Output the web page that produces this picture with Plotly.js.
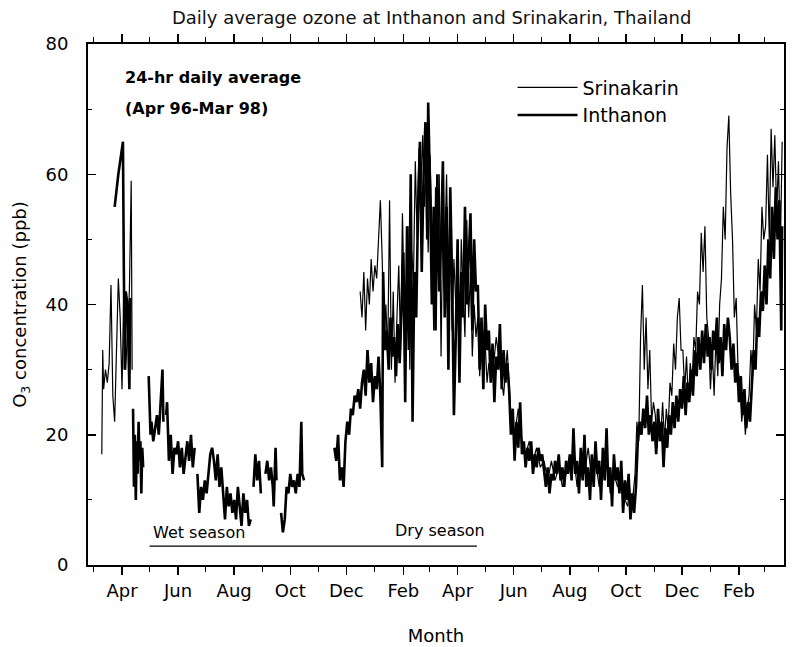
<!DOCTYPE html>
<html>
<head>
<meta charset="utf-8">
<script src="https://cdn.plot.ly/plotly-3.0.1.min.js"></script>
<style>
  html, body { margin: 0; padding: 0; background: #ffffff; }
  #chart { width: 792px; height: 647px; }
</style>
</head>
<body>
<div id="chart"></div>
<script>
// ---------------- DATA ----------------
const monthTickLabels = ['Apr','Jun','Aug','Oct','Dec','Feb','Apr','Jun','Aug','Oct','Dec','Feb'];

// Inthanon (thick line): daily-average O3 in ppb, null = no data
const intDates = [
'1996-03-24','1996-03-26','1996-03-28','1996-03-30','1996-04-01','1996-04-02','1996-04-03','1996-04-04','1996-04-05','1996-04-07','1996-04-09','1996-04-10','1996-04-12',
'1996-04-13','1996-04-14','1996-04-15','1996-04-16','1996-04-17','1996-04-18','1996-04-19','1996-04-20','1996-04-21','1996-04-22','1996-04-23','1996-04-24','1996-04-26',
'1996-04-30','1996-05-01','1996-05-02','1996-05-03','1996-05-05','1996-05-07','1996-05-09','1996-05-11','1996-05-13','1996-05-15','1996-05-16','1996-05-17',
'1996-05-19','1996-05-20','1996-05-22','1996-05-24','1996-05-26','1996-05-28','1996-05-30','1996-06-01','1996-06-03','1996-06-05','1996-06-07','1996-06-09','1996-06-11','1996-06-13','1996-06-15','1996-06-17','1996-06-19','1996-06-20',
'1996-06-22','1996-06-24','1996-06-26','1996-06-28','1996-06-30','1996-07-02','1996-07-04','1996-07-06','1996-07-08','1996-07-10','1996-07-12','1996-07-14','1996-07-16','1996-07-18',
'1996-07-20','1996-07-22','1996-07-24','1996-07-26','1996-07-28','1996-07-30','1996-08-01','1996-08-03','1996-08-05','1996-08-07','1996-08-09','1996-08-11','1996-08-13','1996-08-15','1996-08-17','1996-08-19','1996-08-20',
'1996-08-22','1996-08-24','1996-08-26','1996-08-28','1996-08-30','1996-09-01',
'1996-09-04','1996-09-06','1996-09-08','1996-09-10','1996-09-12','1996-09-13','1996-09-15','1996-09-16','1996-09-18',
'1996-09-21','1996-09-23','1996-09-25','1996-09-27','1996-09-29','1996-10-01','1996-10-03','1996-10-05','1996-10-07','1996-10-09','1996-10-11','1996-10-13','1996-10-14','1996-10-16','1996-10-17',
'1996-11-18','1996-11-20','1996-11-22','1996-11-24','1996-11-26','1996-11-28','1996-11-30','1996-12-02','1996-12-04','1996-12-06','1996-12-08','1996-12-10','1996-12-12','1996-12-14','1996-12-16','1996-12-18','1996-12-20','1996-12-22','1996-12-24','1996-12-26','1996-12-28','1996-12-30',
'1997-01-01','1997-01-03','1997-01-05','1997-01-07','1997-01-09','1997-01-10','1997-01-12','1997-01-14','1997-01-16','1997-01-18','1997-01-20','1997-01-22','1997-01-24','1997-01-26','1997-01-28','1997-01-30',
'1997-02-01','1997-02-03','1997-02-05','1997-02-07','1997-02-09','1997-02-11','1997-02-13','1997-02-15','1997-02-17','1997-02-19','1997-02-21','1997-02-23','1997-02-25','1997-02-27','1997-02-28',
'1997-03-02','1997-03-04','1997-03-06','1997-03-08','1997-03-10','1997-03-12','1997-03-14','1997-03-16','1997-03-18','1997-03-20','1997-03-22','1997-03-24','1997-03-26','1997-03-28','1997-03-30',
'1997-04-01','1997-04-03','1997-04-05','1997-04-07','1997-04-09','1997-04-11','1997-04-13','1997-04-15','1997-04-17','1997-04-19','1997-04-21','1997-04-23','1997-04-25','1997-04-27','1997-04-29',
'1997-05-01','1997-05-03','1997-05-05','1997-05-07','1997-05-09','1997-05-11','1997-05-13','1997-05-15','1997-05-17','1997-05-19','1997-05-21','1997-05-23','1997-05-25','1997-05-27','1997-05-29','1997-05-31',
'1997-06-02','1997-06-04','1997-06-06','1997-06-08','1997-06-10','1997-06-12','1997-06-14','1997-06-16','1997-06-18','1997-06-20','1997-06-22','1997-06-24','1997-06-26','1997-06-28','1997-06-30',
'1997-07-02','1997-07-04','1997-07-06','1997-07-08','1997-07-10','1997-07-12','1997-07-14','1997-07-16','1997-07-18','1997-07-20','1997-07-22','1997-07-24','1997-07-26','1997-07-28','1997-07-30',
'1997-08-01','1997-08-03','1997-08-05','1997-08-07','1997-08-09','1997-08-11','1997-08-13','1997-08-15','1997-08-17','1997-08-19','1997-08-21','1997-08-23','1997-08-25','1997-08-27','1997-08-29','1997-08-31',
'1997-09-02','1997-09-04','1997-09-06','1997-09-08','1997-09-10','1997-09-12','1997-09-14','1997-09-16','1997-09-18','1997-09-20','1997-09-22','1997-09-24','1997-09-26','1997-09-28','1997-09-30',
'1997-10-02','1997-10-04','1997-10-06','1997-10-08','1997-10-10','1997-10-12','1997-10-14','1997-10-16','1997-10-18','1997-10-20','1997-10-22','1997-10-24','1997-10-26','1997-10-28','1997-10-30',
'1997-11-01','1997-11-03','1997-11-05','1997-11-07','1997-11-09','1997-11-11','1997-11-13','1997-11-15','1997-11-17','1997-11-19','1997-11-21','1997-11-23','1997-11-25','1997-11-27','1997-11-29',
'1997-12-01','1997-12-03','1997-12-05','1997-12-07','1997-12-09','1997-12-11','1997-12-13','1997-12-15','1997-12-17','1997-12-19','1997-12-21','1997-12-23','1997-12-25','1997-12-27','1997-12-29','1997-12-31',
'1998-01-02','1998-01-04','1998-01-06','1998-01-08','1998-01-10','1998-01-12','1998-01-14','1998-01-16','1998-01-18','1998-01-20','1998-01-22','1998-01-24','1998-01-26','1998-01-28','1998-01-30',
'1998-02-01','1998-02-03','1998-02-05','1998-02-07','1998-02-09','1998-02-11','1998-02-13','1998-02-15','1998-02-17','1998-02-19','1998-02-21','1998-02-23','1998-02-25','1998-02-27',
'1998-03-01','1998-03-03','1998-03-05','1998-03-07','1998-03-09','1998-03-11','1998-03-13','1998-03-15','1998-03-17','1998-03-19','1998-03-20'
];
const intValues = [
55,58,60,62,64,65,45,30,42,40,27,41,null,
24,12,20,10,19,14,22,16,19,11,18,15,null,
29,24,20,22,19,21,23,20,26,30,22,null,
23,25,16,20,14,18,17,19,15,18,14,17,19,16,20,15,18,null,
14,8,12,10,13,11,14,17,18,16,13,17,12,15,
11,7,12,9,11,8,10,7,12,9,6,11,8,10,6,7,null,
12,17,13,16,11,null,
14,16,13,15,12,9,18,13,null,
8,5,7,12,11,14,12,13,11,14,12,22,14,13,null,
18,16,20,13,15,12,19,22,20,24,23,26,25,27,24,28,30,26,33,28,31,25,
29,27,32,26,15,45,33,36,30,38,32,35,29,37,31,40,
48,25,52,33,60,22,45,38,55,65,45,60,68,50,71,
58,40,55,36,60,42,50,62,38,55,30,58,44,23,35,
50,28,45,38,55,40,48,54,36,50,42,43,30,38,27,
40,33,36,28,34,25,32,30,37,27,33,28,31,27,20,24,
16,22,18,25,17,19,15,18,16,19,14,17,15,18,16,
17,14,12,15,11,14,13,16,14,17,13,15,12,16,14,
17,13,21,14,16,11,18,13,20,12,15,10,17,12,19,14,
16,10,18,13,21,12,15,9,17,13,15,11,16,8,13,
10,14,7,11,8,12,19,22,20,24,21,26,20,23,19,
22,17,24,19,22,15,21,18,23,20,25,21,26,22,27,
24,29,23,28,25,30,26,33,29,35,30,36,31,37,32,35,
30,36,33,38,31,35,29,37,33,38,35,30,34,28,31,
25,29,23,27,21,25,22,28,33,30,38,35,42,39,
46,40,50,44,55,47,58,50,56,36,52
];

// Srinakarin (thin line): daily-average O3 in ppb, null = no data
const sriDates = [
'1996-03-10','1996-03-11','1996-03-12','1996-03-14','1996-03-16','1996-03-18','1996-03-20','1996-03-22','1996-03-24','1996-03-26','1996-03-28','1996-03-30','1996-04-01','1996-04-03','1996-04-05','1996-04-07','1996-04-09','1996-04-11','1996-04-12','1996-04-13',
'1996-12-16','1996-12-18','1996-12-20','1996-12-22','1996-12-24','1996-12-26','1996-12-28','1996-12-30',
'1997-01-01','1997-01-03','1997-01-05','1997-01-07','1997-01-09','1997-01-11','1997-01-13','1997-01-15','1997-01-17','1997-01-19','1997-01-21','1997-01-23','1997-01-25','1997-01-27','1997-01-29','1997-01-31',
'1997-02-02','1997-02-04','1997-02-06','1997-02-08','1997-02-10','1997-02-12','1997-02-14','1997-02-16','1997-02-18','1997-02-20','1997-02-22','1997-02-24','1997-02-26','1997-02-28',
'1997-03-02','1997-03-04','1997-03-06','1997-03-08','1997-03-10','1997-03-12','1997-03-14','1997-03-16','1997-03-18','1997-03-20','1997-03-22','1997-03-24','1997-03-26','1997-03-28','1997-03-30',
'1997-04-01','1997-04-03','1997-04-05','1997-04-07','1997-04-09','1997-04-11','1997-04-13','1997-04-15','1997-04-17','1997-04-19','1997-04-21','1997-04-23','1997-04-25','1997-04-27','1997-04-29',
'1997-05-01','1997-05-03','1997-05-05','1997-05-09','1997-05-13','1997-05-17','1997-05-21','1997-05-25','1997-05-29',
'1997-06-02','1997-06-06','1997-06-10','1997-06-14','1997-06-18','1997-06-22','1997-06-26','1997-06-30','1997-07-04','1997-07-08','1997-07-12','1997-07-16','1997-07-20','1997-07-24','1997-07-28',
'1997-08-01','1997-08-05','1997-08-09','1997-08-13','1997-08-17','1997-08-21','1997-08-25','1997-08-29','1997-09-02','1997-09-06','1997-09-10','1997-09-14','1997-09-18','1997-09-22','1997-09-26','1997-09-30',
'1997-10-03','1997-10-05','1997-10-07','1997-10-09','1997-10-11','1997-10-13','1997-10-15','1997-10-17','1997-10-19','1997-10-21','1997-10-23','1997-10-25','1997-10-27','1997-10-29','1997-10-31',
'1997-11-02','1997-11-04','1997-11-06','1997-11-08','1997-11-10','1997-11-12','1997-11-14','1997-11-16','1997-11-18','1997-11-20','1997-11-22','1997-11-24','1997-11-26','1997-11-28','1997-11-30',
'1997-12-02','1997-12-04','1997-12-06','1997-12-08','1997-12-10','1997-12-12','1997-12-14','1997-12-16','1997-12-18','1997-12-20','1997-12-22','1997-12-24','1997-12-26','1997-12-28','1997-12-30',
'1998-01-01','1998-01-03','1998-01-05','1998-01-07','1998-01-09','1998-01-11','1998-01-13','1998-01-15','1998-01-17','1998-01-19','1998-01-21','1998-01-23','1998-01-25','1998-01-27','1998-01-29','1998-01-31',
'1998-02-02','1998-02-04','1998-02-06','1998-02-08','1998-02-10','1998-02-12','1998-02-14','1998-02-16','1998-02-18','1998-02-20','1998-02-22','1998-02-24','1998-02-26','1998-02-28',
'1998-03-02','1998-03-04','1998-03-06','1998-03-08','1998-03-10','1998-03-12','1998-03-14','1998-03-16','1998-03-18','1998-03-20'
];
const sriValues = [
17,33,27,30,28,31,43,26,22,33,44,38,27,43,30,36,42,59,30,null,
42,38,45,36,44,40,47,42,
46,44,50,56,47,35,40,32,56,30,42,28,38,46,33,54,
40,35,52,30,48,44,62,50,64,58,66,55,62,48,
63,52,36,58,45,60,32,55,48,60,42,52,36,47,40,
44,30,50,42,35,53,38,45,32,40,35,38,29,35,30,
34,28,31,29,35,30,26,33,23,
20,24,19,17,19,16,18,15,16,13,16,13,15,12,14,
15,17,12,16,14,18,13,16,12,15,17,11,14,12,14,10,
9,12,8,11,14,22,19,35,43,30,38,27,33,22,25,
23,18,22,20,25,19,24,21,28,26,34,30,38,41,33,
33,27,32,25,31,28,35,33,42,40,51,45,52,38,35,
27,33,26,35,29,40,44,55,50,64,69,57,50,38,41,30,
28,22,25,20,24,26,33,29,40,36,47,42,55,50,
52,63,50,67,58,66,54,62,48,65
];

// ---------------- STYLE / LAYOUT ----------------
const FONT = 'DejaVu Sans, Arial, sans-serif';
const X_RANGE = ['1996-02-24', '1998-03-22'];
const SEASON_LINE = { x0: '1996-05-01', x1: '1997-04-22', y: 2.9 };

const traces = [
  {
    type: 'scatter', mode: 'lines', name: 'Inthanon',
    x: intDates, y: intValues, connectgaps: false,
    line: { color: '#000000', width: 2.6 }
  },
  {
    type: 'scatter', mode: 'lines', name: 'Srinakarin',
    x: sriDates, y: sriValues, connectgaps: false,
    line: { color: '#000000', width: 1.2 }
  }
];

const xTickVals = ['1996-04-01','1996-06-01','1996-08-01','1996-10-01','1996-12-01','1997-02-01',
                   '1997-04-01','1997-06-01','1997-08-01','1997-10-01','1997-12-01','1998-02-01'];

const layout = {
  width: 792, height: 647,
  paper_bgcolor: '#ffffff', plot_bgcolor: '#ffffff',
  margin: { l: 88, r: 8, t: 44, b: 82 },
  font: { family: FONT, color: '#000000' },
  showlegend: true,
  title: {
    text: 'Daily average ozone at Inthanon and Srinakarin, Thailand',
    font: { family: FONT, size: 18, color: '#111111' },
    x: 0.545, xanchor: 'center', y: 0.972, yanchor: 'middle'
  },
  legend: {
    x: 0.61, y: 0.953, xanchor: 'left', yanchor: 'top',
    traceorder: 'reversed', itemwidth: 60,
    bgcolor: 'rgba(0,0,0,0)', borderwidth: 0,
    font: { family: FONT, size: 19, color: '#000000' }
  },
  xaxis: {
    type: 'date', range: X_RANGE, autorange: false,
    tickmode: 'array', tickvals: xTickVals, ticktext: monthTickLabels,
    ticks: 'outside', ticklen: 8, tickwidth: 1.5, tickcolor: '#000',
    minor: { dtick: 'M1', tick0: '1996-04-01', ticks: 'outside', ticklen: 5, tickwidth: 1.2, tickcolor: '#000', showgrid: false },
    showline: true, linewidth: 2, linecolor: '#000', mirror: 'allticks',
    showgrid: false, zeroline: false,
    tickfont: { family: FONT, size: 18, color: '#000' },
    title: { text: 'Month', font: { family: FONT, size: 18, color: '#000' }, standoff: 30 },
    automargin: false
  },
  yaxis: {
    range: [0, 80], autorange: false,
    tickmode: 'linear', tick0: 0, dtick: 20,
    ticks: 'inside', ticklen: 8, tickwidth: 1.5, tickcolor: '#000',
    minor: { dtick: 10, ticks: 'inside', ticklen: 4, tickwidth: 1.2, tickcolor: '#000', showgrid: false },
    showline: true, linewidth: 2, linecolor: '#000', mirror: 'allticks',
    showgrid: false, zeroline: false,
    ticklabelstandoff: 14,
    tickfont: { family: FONT, size: 18, color: '#000' },
    title: { text: 'O<sub>3</sub> concentration (ppb)', font: { family: FONT, size: 18, color: '#000' }, standoff: 14 },
    automargin: false
  },
  shapes: [
    { type: 'line', xref: 'x', yref: 'y',
      x0: SEASON_LINE.x0, x1: SEASON_LINE.x1, y0: SEASON_LINE.y, y1: SEASON_LINE.y,
      line: { color: '#000', width: 1.2 } }
  ],
  annotations: [
    { xref: 'paper', yref: 'paper', x: 0.05, y: 0.935, xanchor: 'left', yanchor: 'middle', showarrow: false,
      text: '<b>24-hr daily average</b>', font: { family: FONT, size: 16, color: '#000' } },
    { xref: 'paper', yref: 'paper', x: 0.05, y: 0.877, xanchor: 'left', yanchor: 'middle', showarrow: false,
      text: '<b>(Apr 96-Mar 98)</b>', font: { family: FONT, size: 16, color: '#000' } },
    { xref: 'paper', yref: 'paper', x: 0.159, y: 0.063, xanchor: 'center', yanchor: 'middle', showarrow: false,
      text: 'Wet season', font: { family: FONT, size: 16, color: '#000' } },
    { xref: 'paper', yref: 'paper', x: 0.506, y: 0.067, xanchor: 'center', yanchor: 'middle', showarrow: false,
      text: 'Dry season', font: { family: FONT, size: 16, color: '#000' } }
  ]
};

Plotly.newPlot('chart', traces, layout, { displayModeBar: false, staticPlot: true });
</script>
</body>
</html>
